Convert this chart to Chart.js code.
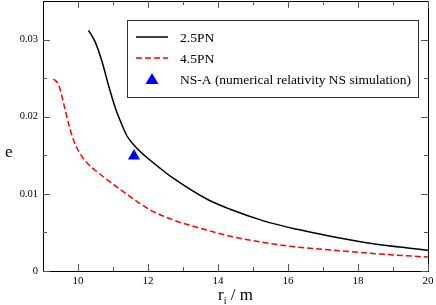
<!DOCTYPE html>
<html>
<head>
<meta charset="utf-8">
<script src="https://cdn.jsdelivr.net/npm/chart.js@4.4.0/dist/chart.umd.min.js"></script>
<style>
  html, body { margin: 0; padding: 0; background: #fff; }
  #wrap { width: 436px; height: 305px; }
</style>
</head>
<body>
<div id="wrap"><canvas id="eccChart"></canvas></div>
<script>
// values
const pn25X = [10.30, 10.49, 10.69, 10.87, 11.07, 11.26, 11.40, 11.64, 11.92, 12.35, 12.73, 13.69, 14.35, 15.30, 16.26, 17.21, 18.07, 18.64, 20.0];
const pn25Y = [0.0312, 0.0297, 0.0271, 0.0241, 0.0211, 0.0189, 0.0175, 0.0161, 0.0149, 0.0133, 0.0120, 0.0093, 0.0080, 0.0065, 0.0054, 0.0045, 0.0038, 0.0034, 0.0027];

const pn45X = [9.30, 9.45, 9.59, 9.73, 9.87, 10.02, 10.26, 10.59, 11.02, 11.69, 12.07, 12.73, 13.69, 14.45, 15.30, 16.26, 17.02, 18.64, 20.0];
const pn45Y = [0.0249, 0.0241, 0.0217, 0.0191, 0.0170, 0.0155, 0.0140, 0.0127, 0.0112, 0.0090, 0.0079, 0.0066, 0.0053, 0.0044, 0.0037, 0.0031, 0.0028, 0.0022, 0.0018];

const nsaX = [11.6];
const nsaY = [0.0149];

const xTicks = [10, 12, 14, 16, 18, 20];
const xMinorTicks = [11, 13, 15, 17, 19];
const yTicks = [0, 0.01, 0.02, 0.03];
const yMinorTicks = [0.005, 0.015, 0.025];

const toPoints = (xs, ys) => xs.map((x, i) => ({ x: x, y: ys[i] }));

const serif = '"Liberation Serif", "DejaVu Serif", serif';

// frame, inward ticks, axis titles and the boxed legend
const framePlugin = {
  id: 'frame',
  afterDraw(chart) {
    const ctx = chart.ctx;
    const a = chart.chartArea;
    const xs = chart.scales.x;
    const ys = chart.scales.y;
    ctx.save();
    ctx.strokeStyle = '#000';
    ctx.lineWidth = 1;
    ctx.strokeRect(Math.round(a.left) + 0.5, Math.round(a.top) + 0.5,
      Math.round(a.right - a.left), Math.round(a.bottom - a.top));

    const tick = (x1, y1, x2, y2) => {
      ctx.beginPath(); ctx.moveTo(x1, y1); ctx.lineTo(x2, y2); ctx.stroke();
    };
    ctx.strokeStyle = '#555';
    xTicks.forEach(v => {
      const px = Math.round(xs.getPixelForValue(v)) + 0.5;
      tick(px, a.bottom, px, a.bottom - 7);
      tick(px, a.top, px, a.top + 7);
    });
    xMinorTicks.forEach(v => {
      const px = Math.round(xs.getPixelForValue(v)) + 0.5;
      tick(px, a.bottom, px, a.bottom - 4);
      tick(px, a.top, px, a.top + 4);
    });
    yTicks.forEach(v => {
      const py = Math.round(ys.getPixelForValue(v)) + 0.5;
      tick(a.left, py, a.left + 7, py);
      tick(a.right, py, a.right - 7, py);
    });
    yMinorTicks.forEach(v => {
      const py = Math.round(ys.getPixelForValue(v)) + 0.5;
      tick(a.left, py, a.left + 4, py);
      tick(a.right, py, a.right - 4, py);
    });

    // axis titles
    ctx.fillStyle = '#000';
    ctx.textBaseline = 'alphabetic';
    ctx.font = '17px ' + serif;
    ctx.textAlign = 'left';
    ctx.fillText('e', 5, 157);
    const cx = (a.left + a.right) / 2;
    ctx.font = '17px ' + serif;
    const rW = ctx.measureText('r').width;
    ctx.font = '10px ' + serif;
    const iW = ctx.measureText('i').width;
    ctx.font = '17px ' + serif;
    const restW = ctx.measureText(' / m').width;
    let tx = cx - (rW + iW + restW) / 2;
    ctx.fillText('r', tx, 300);
    ctx.font = '10px ' + serif;
    ctx.fillText('i', tx + rW, 304);
    ctx.font = '17px ' + serif;
    ctx.fillText(' / m', tx + rW + iW, 300);

    // legend box
    ctx.strokeStyle = '#333';
    ctx.strokeRect(127.5, 20.5, 291, 77);
    ctx.font = '13.5px ' + serif;
    ctx.textBaseline = 'middle';
    const rows = [37, 58, 79];
    chart.data.datasets.forEach((ds, i) => {
      const y = rows[i];
      if (ds.showLine) {
        ctx.strokeStyle = ds.borderColor;
        ctx.lineWidth = ds.borderWidth;
        ctx.setLineDash(ds.borderDash || []);
        tick(136, y, 168, y);
        ctx.setLineDash([]);
      } else {
        ctx.fillStyle = ds.backgroundColor;
        ctx.beginPath();
        ctx.moveTo(152, y - 6);
        ctx.lineTo(158.5, y + 5);
        ctx.lineTo(145.5, y + 5);
        ctx.closePath();
        ctx.fill();
      }
      ctx.fillStyle = '#000';
      ctx.fillText(ds.label, 180, y + 1);
    });
    ctx.restore();
  }
};

new Chart(document.getElementById('eccChart'), {
  type: 'scatter',
  data: {
    datasets: [
      {
        label: '2.5PN',
        data: toPoints(pn25X, pn25Y),
        showLine: true,
        borderColor: '#000000',
        borderWidth: 1.5,
        pointRadius: 0,
        cubicInterpolationMode: 'monotone'
      },
      {
        label: '4.5PN',
        data: toPoints(pn45X, pn45Y),
        showLine: true,
        borderColor: '#ff0000',
        borderWidth: 1.5,
        borderDash: [6, 3],
        pointRadius: 0,
        cubicInterpolationMode: 'monotone'
      },
      {
        label: 'NS-A (numerical relativity NS simulation)',
        data: toPoints(nsaX, nsaY),
        showLine: false,
        pointStyle: 'triangle',
        pointRadius: 7,
        backgroundColor: '#0000ff',
        borderColor: '#0000ff',
        borderWidth: 0
      }
    ]
  },
  options: {
    responsive: true,
    maintainAspectRatio: false,
    animation: false,
    layout: { autoPadding: false, padding: { top: 1, right: 8, left: 0, bottom: 0 } },
    plugins: {
      legend: { display: false },
      tooltip: { enabled: false }
    },
    scales: {
      x: {
        type: 'linear',
        min: 9,
        max: 20,
        grid: { display: false, drawTicks: false },
        border: { display: false },
        afterBuildTicks: scale => { scale.ticks = xTicks.map(v => ({ value: v })); },
        afterFit: scale => {
          scale.height = 34;
          scale.paddingLeft = 0;
          scale.paddingRight = 0;
        },
        ticks: {
          color: '#000',
          padding: 4,
          maxRotation: 0,
          font: { family: serif, size: 11 },
          callback: v => String(v)
        }
      },
      y: {
        type: 'linear',
        min: 0,
        max: 0.035,
        grid: { display: false, drawTicks: false },
        border: { display: false },
        afterBuildTicks: scale => { scale.ticks = yTicks.map(v => ({ value: v })); },
        afterFit: scale => {
          scale.width = 43;
          scale.paddingTop = 0;
          scale.paddingBottom = 0;
        },
        ticks: {
          color: '#000',
          padding: 5,
          font: { family: serif, size: 10.5 },
          callback: v => (v === 0 ? '0' : String(Number(v.toFixed(3))))
        }
      }
    }
  },
  plugins: [framePlugin]
});
</script>
</body>
</html>
